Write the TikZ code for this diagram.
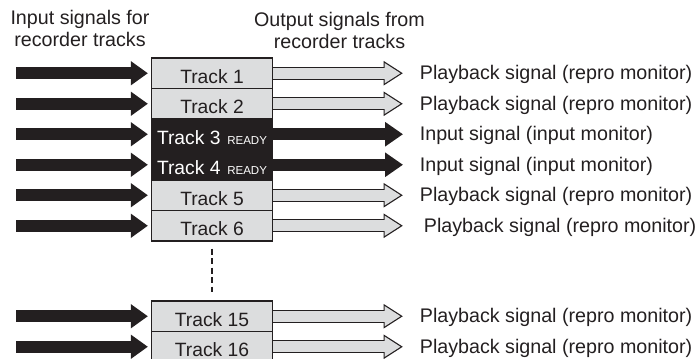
\documentclass[tikz,border=0pt]{standalone}
\usepackage{fontspec}
\setmainfont{Liberation Sans}
\usetikzlibrary{arrows.meta}
\definecolor{trkDark}{HTML}{231F20}
\definecolor{trkGray}{HTML}{DCDDDE}
\newcommand{\rdy}{\hspace{1pt}{\fontsize{8.2}{9}\selectfont READY}}
\tikzset{
	track/.style={draw=trkDark, fill=trkGray, line width=0.85pt, text=trkDark,
			minimum width=3.025cm, minimum height=0.7625cm, inner sep=0,
			text height=0.49cm, text depth=0pt, font=\fontsize{13.7}{15}\selectfont},
	armed/.style={track, fill=trkDark, text=white},
	sig/.style={anchor=base west, inner sep=0, text=trkDark, font=\fontsize{14}{16}\selectfont},
	head/.style={align=center, inner sep=0, text=trkDark, font=\fontsize{14}{15.4}\selectfont}
}

\begin{document}
\begin{tikzpicture}[
		inarrow/.style={trkDark, line width=0.3125cm, -{Triangle[length=0.425cm, width=0.575cm]}, shorten >=0.075cm},
		outblack/.style={trkDark, line width=0.3125cm, -{Triangle[length=0.45cm, width=0.5875cm]}},
		outrim/.style={trkDark, line width=0.325cm, -{Triangle[length=0.4875cm, width=0.5825cm]}},
		outfill/.style={trkGray, line width=0.265cm, -{Triangle[length=0.399cm, width=0.4768cm]}, shorten >=0.0585cm}]
	\useasboundingbox (0,0) rectangle (17.475,-8.95);
	\node[head] (h1) at (2.0, -0.715) {Input signals for\\recorder tracks};
	\node[head] (h2) at (8.4875, -0.757) {Output signals from\\recorder tracks};
	\node[track] (t1) at (5.3, -1.831) {Track 1};
	\node[track] (t2) at (5.3, -2.594) {Track 2};
	\node[armed] (t3) at (5.3, -3.356) {Track 3 \rdy};
	\node[armed] (t4) at (5.3, -4.119) {Track 4 \rdy};
	\node[track] (t5) at (5.3, -4.881) {Track 5};
	\node[track] (t6) at (5.3, -5.644) {Track 6};
	\node[track] (t15) at (5.3, -7.906) {Track 15};
	\node[track] (t16) at (5.3, -8.669) {Track 16};
	\coordinate (i1) at (0.41, -1.831);
	\coordinate (i2) at (0.41, -2.594);
	\coordinate (i3) at (0.41, -3.356);
	\coordinate (i4) at (0.41, -4.119);
	\coordinate (i5) at (0.41, -4.881);
	\coordinate (i6) at (0.41, -5.644);
	\coordinate (i15) at (0.41, -7.906);
	\coordinate (i16) at (0.41, -8.669);
	\coordinate (o1) at (10.075, -1.831);
	\coordinate (o2) at (10.075, -2.594);
	\coordinate (o3) at (10.075, -3.356);
	\coordinate (o4) at (10.075, -4.119);
	\coordinate (o5) at (10.075, -4.881);
	\coordinate (o6) at (10.075, -5.644);
	\coordinate (o15) at (10.075, -7.906);
	\coordinate (o16) at (10.075, -8.669);
	\node[sig] (p1) at (10.49, -1.994) {Playback signal (repro monitor)};
	\node[sig] (p2) at (10.49, -2.757) {Playback signal (repro monitor)};
	\node[sig] (p3) at (10.49, -3.519) {Input signal (input monitor)};
	\node[sig] (p4) at (10.49, -4.282) {Input signal (input monitor)};
	\node[sig] (p5) at (10.49, -5.044) {Playback signal (repro monitor)};
	\node[sig] (p6) at (10.59, -5.807) {Playback signal (repro monitor)};
	\node[sig] (p15) at (10.49, -8.069) {Playback signal (repro monitor)};
	\node[sig] (p16) at (10.49, -8.832) {Playback signal (repro monitor)};
	\draw[inarrow] (i1) -- (t1);
	\draw[inarrow] (i2) -- (t2);
	\draw[inarrow] (i3) -- (t3);
	\draw[inarrow] (i4) -- (t4);
	\draw[inarrow] (i5) -- (t5);
	\draw[inarrow] (i6) -- (t6);
	\draw[inarrow] (i15) -- (t15);
	\draw[inarrow] (i16) -- (t16);
	\draw[outrim] (t1) -- (o1); \draw[outfill] (t1) -- (o1);
	\draw[outrim] (t2) -- (o2); \draw[outfill] (t2) -- (o2);
	\draw[outblack] (t3) -- (o3);
	\draw[outblack] (t4) -- (o4);
	\draw[outrim] (t5) -- (o5); \draw[outfill] (t5) -- (o5);
	\draw[outrim] (t6) -- (o6); \draw[outfill] (t6) -- (o6);
	\draw[outrim] (t15) -- (o15); \draw[outfill] (t15) -- (o15);
	\draw[outrim] (t16) -- (o16); \draw[outfill] (t16) -- (o16);
	\draw[trkDark, line width=0.0325cm, dash pattern=on 0.15cm off 0.0875cm, shorten <=0.175cm, shorten >=0.2cm] (t6) -- (t15);
\end{tikzpicture}
\end{document}
